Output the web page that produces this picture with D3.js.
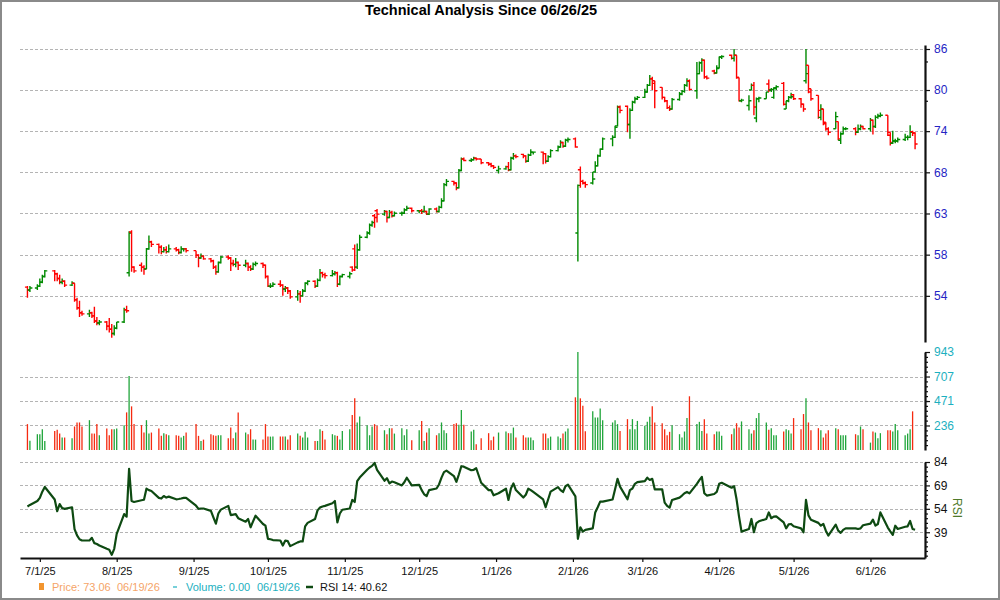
<!DOCTYPE html>
<html>
<head>
<meta charset="utf-8">
<script src="https://cdn.jsdelivr.net/npm/d3@7"></script>
<style>
  html, body { margin: 0; padding: 0; background: #fff; }
  svg { display: block; font-family: "Liberation Sans", Arial, sans-serif; }
</style>
</head>
<body>
<svg id="chart" width="1000" height="600"></svg>
<script>
/* ---------------------------------------------
   Data: one line per trading week (6/26/25 .. 6/19/26)
---------------------------------------------- */
const holidays = ["2025-07-04", "2025-09-01", "2025-11-27", "2025-12-25", "2026-01-01",
                  "2026-01-19", "2026-02-16", "2026-04-03", "2026-05-25"];

const opens = [
  54.9, 54.6,
  54.8, 55.0, 55.4, 56.0,
  56.6, 56.3, 55.8, 55.4, 55.5,
  55.1, 55.3, 53.6, 52.8, 52.3,
  52.2, 52.3, 52.0, 51.5, 51.3,
  51.4, 51.0, 50.7, 50.3, 50.8,
  51.4, 52.6, 56.4, 60.9, 57.0,
  57.2, 57.0, 56.8, 59.0, 59.8,
  59.5, 59.2, 58.7, 58.9, 58.7,
  59.0, 58.9, 58.6, 59.0, 59.0,
  58.8, 58.3, 58.0, 58.2,
  57.9, 57.7, 57.0, 56.5, 57.5,
  58.1, 58.0, 57.4, 57.3, 57.5,
  57.2, 57.4, 57.0, 56.8, 57.3,
  57.4, 57.2, 56.0, 55.0, 55.0,
  55.2, 55.1, 54.7, 54.8, 54.5,
  53.9, 54.2, 54.0, 54.5, 55.3,
  55.5, 55.0, 55.6, 56.4, 56.2,
  56.1, 56.3, 56.4, 55.2, 56.0,
  56.0, 57.0, 59.0, 57.0, 58.9,
  60.3, 60.8, 61.7, 62.8, 63.4,
  63.0, 63.3, 62.6, 63.2, 62.8,
  63.1, 63.1, 63.5, 63.7,
  63.4, 63.4, 63.3, 63.3, 63.0,
  63.6, 63.3, 63.8, 64.6, 66.6,
  67.0, 66.8, 66.2, 68.4, 69.9,
  69.7, 69.8, 70.0, 69.9,
  69.4, 69.2, 69.0, 68.4,
  68.6, 68.9, 68.5, 70.0, 70.3,
  70.5, 70.3, 69.6, 70.4, 70.8,
  70.8, 70.6, 69.6, 70.2,
  71.0, 71.5, 72.1, 71.6, 72.4,
  72.6, 60.8, 68.5, 67.0, 66.8,
  66.8, 68.2, 69.0, 70.3, 71.2,
  72.6, 72.8, 74.4, 77.1,
  77.2, 74.6, 76.6, 77.8, 78.3,
  78.5, 79.3, 80.3, 81.3, 81.0,
  80.0, 78.5, 78.0, 77.0, 76.8,
  78.2, 79.0, 79.4, 80.3, 81.0,
  79.5, 82.1, 83.8, 84.2, 81.6,
  82.5, 82.2, 83.0, 84.7,
  85.0, 84.5, 85.0, 81.5, 78.0,
  77.3, 79.6, 80.3, 75.5, 78.3,
  78.3, 80.5, 79.6, 78.5, 79.9,
  80.6, 76.8, 78.0, 78.5, 78.9,
  78.3, 77.5, 81.0, 83.4, 79.8,
  78.8, 75.6, 76.8, 74.9, 74.0,
  74.0, 75.0, 72.4, 73.3, 74.0,
  74.0, 73.5, 74.0, 74.3,
  74.0, 75.2, 74.3, 75.6, 75.8,
  75.9, 73.5, 72.0, 72.3, 72.3,
  72.5, 72.8, 72.8, 73.6, 73.4
];

const highs = [
  55.0, 55.0,
  55.2, 55.8, 56.2, 56.7,
  56.7, 56.4, 56.2, 55.8, 55.6,
  55.5, 55.3, 53.8, 53.5, 52.5,
  52.6, 52.4, 52.9, 51.9, 51.6,
  51.5, 51.8, 51.2, 51.1, 51.4,
  52.8, 53.0, 61.0, 61.1, 57.1,
  57.5, 57.2, 59.1, 60.5, 59.9,
  59.6, 59.4, 59.2, 59.3, 59.5,
  59.2, 59.0, 59.3, 59.1, 59.1,
  58.8, 58.4, 58.5, 58.3,
  58.0, 57.8, 57.2, 57.6, 58.2,
  58.3, 58.1, 57.8, 58.0, 57.6,
  57.8, 57.5, 57.2, 57.5, 57.6,
  57.5, 57.3, 56.1, 55.3, 55.4,
  55.6, 55.2, 55.0, 54.9, 54.6,
  54.6, 54.5, 54.7, 55.4, 55.6,
  55.6, 55.8, 56.8, 56.5, 56.4,
  56.7, 56.6, 56.5, 56.1, 56.3,
  56.5, 57.1, 59.5, 59.6, 60.6,
  61.0, 61.9, 62.2, 63.0, 63.6,
  63.5, 63.4, 63.5, 63.4, 63.3,
  63.3, 63.7, 64.0, 63.8,
  63.5, 63.6, 64.0, 63.4, 63.7,
  63.8, 64.0, 64.9, 66.8, 67.3,
  67.1, 66.9, 68.6, 70.1, 70.1,
  70.0, 70.2, 70.1, 69.9,
  69.5, 69.4, 69.1, 69.0,
  69.0, 69.5, 70.2, 70.7, 70.5,
  70.6, 70.4, 70.6, 71.2, 70.9,
  70.9, 70.7, 70.4, 71.2,
  71.7, 72.4, 72.2, 72.6, 72.8,
  72.8, 66.6, 68.9, 67.2, 67.0,
  68.2, 69.6, 70.5, 71.3, 72.8,
  73.1, 74.4, 77.3, 77.3,
  77.3, 76.9, 78.0, 78.6, 78.7,
  79.8, 80.5, 81.9, 81.6, 81.0,
  80.0, 78.6, 78.1, 77.3, 78.4,
  79.3, 79.6, 80.5, 81.4, 81.2,
  83.9, 84.0, 84.5, 84.3, 81.8,
  82.7, 83.4, 84.8, 85.0,
  85.1, 86.0, 85.0, 81.5, 78.3,
  78.8, 80.6, 80.8, 78.5, 78.6,
  79.3, 81.2, 79.9, 80.0, 80.3,
  80.8, 78.0, 78.7, 79.2, 79.0,
  78.4, 77.6, 86.0, 83.4, 79.8,
  78.8, 77.5, 76.8, 74.9, 74.2,
  76.4, 75.0, 73.5, 74.3, 74.2,
  74.2, 74.6, 74.6, 74.4,
  75.5, 75.3, 75.9, 76.1, 76.3,
  75.9, 73.5, 73.7, 72.6, 72.8,
  73.3, 73.1, 74.5, 73.7, 73.5
];

const lows = [
  53.8, 54.4,
  54.6, 54.9, 55.3, 55.9,
  55.5, 55.5, 55.2, 55.2, 54.9,
  55.0, 53.4, 52.6, 51.9, 52.0,
  51.9, 51.8, 51.3, 51.1, 51.1,
  50.6, 50.4, 49.9, 50.1, 50.7,
  51.3, 52.3, 56.0, 56.5, 56.4,
  56.5, 56.2, 56.8, 58.9, 59.2,
  58.5, 58.4, 58.6, 58.5, 58.6,
  58.7, 58.4, 58.5, 58.7, 58.6,
  58.0, 57.0, 57.9, 57.8,
  57.5, 56.8, 56.2, 56.4, 57.4,
  57.8, 56.6, 57.1, 57.0, 56.7,
  57.0, 56.6, 56.6, 56.7, 57.1,
  56.9, 55.8, 54.9, 54.8, 54.9,
  54.9, 54.0, 54.4, 54.2, 53.7,
  53.5, 53.3, 53.9, 54.4, 55.1,
  54.8, 54.9, 55.5, 55.9, 55.8,
  56.0, 56.1, 54.9, 55.1, 55.9,
  55.8, 56.5, 56.6, 56.8, 58.8,
  60.2, 60.6, 61.5, 61.4, 62.0,
  62.8, 62.0, 62.5, 62.6, 62.7,
  62.8, 63.0, 63.4, 63.2,
  63.1, 63.0, 63.2, 62.9, 62.9,
  63.2, 63.2, 63.7, 64.5, 66.4,
  66.5, 65.9, 66.1, 68.3, 69.6,
  69.5, 69.7, 69.7, 69.2,
  69.0, 68.8, 68.6, 68.0,
  68.5, 68.3, 68.4, 69.8, 70.0,
  70.0, 69.4, 69.5, 70.3, 70.5,
  69.2, 69.3, 69.5, 70.1,
  70.9, 71.4, 71.4, 71.5, 72.1,
  71.4, 57.6, 66.2, 66.6, 66.2,
  66.6, 68.1, 68.9, 70.2, 71.1,
  71.6, 72.7, 74.3, 76.2,
  73.5, 72.6, 76.5, 77.6, 78.1,
  78.4, 79.2, 80.2, 79.6, 76.9,
  78.2, 77.8, 76.8, 76.5, 76.7,
  78.0, 78.8, 79.2, 80.1, 79.5,
  78.3, 82.0, 82.4, 81.3, 81.2,
  82.0, 82.1, 82.9, 84.4,
  84.3, 84.0, 81.3, 77.9, 77.8,
  76.6, 79.6, 75.9, 74.9, 77.8,
  78.3, 79.3, 79.3, 78.3, 79.6,
  77.3, 76.8, 77.8, 78.3, 78.1,
  77.0, 76.4, 80.6, 79.1, 78.0,
  75.4, 75.2, 74.5, 73.7, 73.1,
  74.0, 72.4, 71.9, 73.2, 73.8,
  73.1, 73.4, 73.8, 73.9,
  73.6, 73.2, 74.1, 75.4, 75.6,
  73.0, 71.7, 71.9, 72.0, 72.1,
  72.3, 72.4, 72.7, 73.0, 71.2
];

const closes = [
  54.6, 54.8,
  55.0, 55.4, 56.0, 56.6,
  56.3, 55.8, 55.4, 55.5, 55.1,
  55.3, 53.6, 52.8, 52.3, 52.2,
  52.3, 52.0, 51.5, 51.3, 51.4,
  51.0, 50.7, 50.3, 50.8, 51.4,
  52.6, 52.5, 60.8, 57.0, 56.6,
  57.0, 56.8, 59.0, 59.8, 59.5,
  59.2, 58.7, 58.9, 58.7, 59.0,
  58.9, 58.6, 59.0, 59.0, 58.8,
  58.3, 58.0, 58.2, 57.9,
  57.7, 57.0, 56.5, 57.5, 58.1,
  58.0, 57.4, 57.3, 57.5, 57.2,
  57.4, 57.0, 56.8, 57.3, 57.4,
  57.2, 56.0, 55.0, 55.0, 55.2,
  55.1, 54.7, 54.8, 54.5, 53.9,
  54.2, 54.0, 54.5, 55.3, 55.5,
  55.0, 55.6, 56.4, 56.2, 56.1,
  56.3, 56.4, 55.2, 56.0, 56.2,
  56.3, 56.7, 57.0, 58.9, 60.3,
  60.8, 61.7, 62.0, 62.6, 63.0,
  63.3, 62.6, 63.2, 62.8, 63.1,
  63.1, 63.5, 63.7, 63.4,
  63.4, 63.3, 63.3, 63.0, 63.6,
  63.3, 63.8, 64.6, 66.6, 67.0,
  66.8, 66.2, 68.4, 69.9, 69.7,
  69.8, 70.0, 69.9, 69.4,
  69.2, 69.0, 68.8, 68.6,
  68.9, 68.5, 70.0, 70.3, 70.2,
  70.3, 69.6, 70.4, 70.8, 70.8,
  70.6, 69.6, 70.2, 71.0,
  71.5, 72.1, 71.6, 72.4, 72.5,
  71.5, 66.5, 67.0, 66.8, 66.6,
  67.3, 69.0, 70.3, 71.2, 72.6,
  72.8, 74.2, 77.1, 76.6,
  74.6, 76.6, 77.8, 78.3, 78.5,
  79.3, 80.3, 81.3, 80.6, 79.5,
  78.5, 78.0, 77.0, 76.8, 78.2,
  79.0, 79.4, 80.3, 80.9, 79.7,
  82.1, 83.8, 84.2, 81.6, 81.4,
  82.2, 82.9, 84.7, 84.8,
  84.5, 85.0, 81.5, 78.0, 78.1,
  78.0, 80.3, 77.1, 78.3, 78.4,
  79.3, 79.6, 79.7, 79.9, 80.1,
  77.5, 78.0, 78.5, 78.6, 78.3,
  77.5, 76.8, 82.1, 79.3, 78.3,
  76.6, 76.8, 74.7, 74.0, 73.5,
  75.7, 72.6, 73.3, 74.0, 74.0,
  73.6, 74.0, 74.3, 74.0,
  75.2, 74.3, 75.6, 75.8, 75.9,
  73.1, 72.1, 72.3, 72.3, 72.5,
  72.8, 72.8, 73.5, 73.4, 71.9
];

// volume, thousands
const volumes = [
  249, 90,
  152, 152, 200, 87,
  184, 194, 158, 120, 120,
  113, 226, 265, 265, 226,
  287, 158, 158, 249, 142,
  207, 142, 200, 200, 207,
  239, 362, 711, 420, 249,
  239, 168, 287, 158, 168,
  207, 136, 162, 152, 142,
  142, 136, 120, 136, 168,
  249, 136, 87, 100,
  152, 142, 136, 142, 142,
  113, 216, 113, 168, 362,
  168, 152, 200, 100, 100,
  100, 249, 129, 129, 129,
  129, 129, 129, 100, 142,
  158, 136, 120, 175, 120,
  87, 87, 200, 184, 100,
  152, 142, 136, 100, 184,
  200, 336, 497, 265, 323,
  239, 142, 226, 249, 233,
  190, 152, 210, 210, 158,
  210, 142, 200, 94,
  190, 278, 87, 168, 210,
  142, 162, 265, 190, 162,
  249, 258, 242, 384, 242,
  178, 194, 55, 113,
  162, 94, 129, 168,
  178, 162, 162, 216, 120,
  142, 120, 120, 120, 94,
  158, 158, 113, 129,
  129, 113, 158, 178, 207,
  507, 943, 497, 426, 180,
  372, 313, 313, 400, 287,
  265, 287, 249, 184,
  297, 200, 297, 200, 280,
  233, 271, 320, 420, 265,
  258, 200, 142, 175, 239,
  152, 120, 178, 307, 517,
  249, 271, 184, 297, 158,
  152, 178, 178, 136,
  152, 207, 258, 216, 275,
  200, 158, 190, 307, 355,
  265, 194, 210, 142, 142,
  178, 200, 190, 158, 307,
  200, 346, 497, 265, 190,
  210, 190, 120, 158, 190,
  210, 200, 142, 142, 142,
  152, 142, 226, 200,
  71, 178, 168, 113, 162,
  190, 190, 178, 249, 190,
  142, 158, 200, 372, 0
];

const rsi14 = [
  55.5, 56.5,
  59, 61, 65, 68,
  60, 52.5, 57, 54.5, 54,
  55, 41, 37, 34.5, 33.7,
  33.7, 35.4, 32, 31.5, 30.5,
  28.4, 27.8, 24.5, 28.4, 38,
  50.6, 49, 79.6, 59, 58.4,
  59.5, 59.8, 66.9, 66, 65.4,
  61, 60.6, 62.2, 61.2, 61.8,
  60.1, 60.3, 60.6, 61, 61,
  56, 54, 54.2, 54.2,
  52.7, 48.5, 44.5, 51, 53.5,
  55.9, 50, 50.3, 50.6, 48,
  45.8, 47.5, 42.2, 46, 49.6,
  44.3, 43.2, 34.8, 34.5, 34,
  33.7, 30.5, 33.7, 33.3, 30.1,
  32.5, 33.1, 33.1, 42.8, 45,
  47.5, 53, 54.8, 55.5, 55.9,
  57.6, 59, 45.3, 51, 53.4,
  54.2, 59.7, 58.4, 71.7, 74,
  79, 80.5, 81.5, 83.4, 79,
  72, 73.6, 70.3, 71.5, 71,
  69, 71, 73.9, 69,
  69.4, 66, 63.3, 62.2, 66,
  67, 69.6, 74, 77.5, 78.5,
  75, 71.3, 76, 81.3, 81,
  78.7, 79, 80, 70.7,
  66, 66, 62.7, 64,
  66.9, 59.7, 67, 70.3, 66,
  61.2, 63, 66.9, 66, 64.8,
  60, 55, 60, 65,
  67.9, 66, 64.8, 68.5, 69.5,
  62, 34.8, 42.2, 39.4, 40.5,
  41.5, 51.7, 55, 58.6, 58.6,
  60, 66.5, 73.2, 68.2,
  60.1, 66, 67, 70, 71.1,
  71.7, 73.9, 72.5, 73.2, 66.5,
  66.5, 58, 55.9, 54.8, 59.7,
  61.2, 62.5, 64, 64.8, 63.9,
  70, 72.4, 74.5, 64, 62.5,
  63.5, 64.8, 70, 70.7,
  67.5, 68.6, 60.1, 49, 39.4,
  41.1, 47.5, 39, 44.9, 46,
  47.5, 51.7, 48, 49, 49.2,
  45.3, 41.5, 44, 44.3, 42.8,
  41.5, 39, 59.7, 49.8, 47,
  45, 43.2, 44.3, 40, 36.9,
  43.9, 40, 38.6, 40.5, 41.5,
  41.5, 41.1, 41.5, 43.5,
  44.5, 47.1, 43.2, 44.3, 51.7,
  42, 39.5, 37.3, 43.2, 41.1,
  42.5, 42.8, 46.2, 41.1, 40.6
];

// axis ticks
const priceTicks = [54, 58.36, 63.07, 68.16, 73.66, 79.6, 86];
const priceMinor = [84, 78];
const volTicks = [236, 471, 707, 943];
const rsiTicks = [39, 54, 69, 84];
const monthTicks = ["2025-07-01", "2025-08-01", "2025-09-01", "2025-10-01", "2025-11-01", "2025-12-01",
                    "2026-01-01", "2026-02-01", "2026-03-01", "2026-04-01", "2026-05-01", "2026-06-01"];

/* ---------------------------------------------
   Setup
---------------------------------------------- */
const FONT = '"Liberation Sans", Arial, sans-serif';
const UP = "#008a00", DOWN = "#ff0000";
const VOL_UP = "#1fa53a", VOL_DOWN = "#f52a10";
const LEFT = 20, RIGHT = 925;

const svg = d3.select("#chart");

const fmtDay = d3.timeFormat("%Y-%m-%d");
const parseDay = d3.timeParse("%Y-%m-%d");
const dates = d3.timeDay.range(new Date(2025, 5, 26), new Date(2026, 5, 20))
  .filter(d => d.getDay() !== 0 && d.getDay() !== 6 && !holidays.includes(fmtDay(d)));

const n = Math.min(dates.length, opens.length, highs.length, lows.length, closes.length, volumes.length, rsi14.length);
if (n !== dates.length || n !== closes.length) console.log("length mismatch", dates.length, closes.length, volumes.length, rsi14.length);

const bars = d3.range(n).map(i => ({
  date: dates[i], o: opens[i], h: highs[i], l: lows[i], c: closes[i], v: volumes[i], r: rsi14[i]
}));

const x = d3.scaleTime()
  .domain([new Date(2025, 5, 23), new Date(2026, 5, 23)])
  .range([LEFT, RIGHT]);

const yP = d3.scaleLog().domain([49.5, 86.65]).range([342, 45]);
const yV = d3.scaleLinear().domain([0, 943]).range([450, 352]);
const yR = d3.scaleLinear().domain([22.5, 84]).range([558, 462]);

// outer frame
svg.append("rect")
  .attr("x", 1).attr("y", 1).attr("width", 998).attr("height", 598)
  .attr("fill", "#fff").attr("stroke", "#8a8a8a").attr("stroke-width", 2);

// title
svg.append("text")
  .attr("x", 481).attr("y", 15)
  .attr("text-anchor", "middle")
  .attr("font-family", FONT).attr("font-weight", "bold").attr("font-size", 14.5)
  .attr("fill", "#000")
  .text("Technical Analysis Since 06/26/25");

/* ---------------------------------------------
   Grid lines
---------------------------------------------- */
function grid(values, scale) {
  svg.append("g").selectAll("line")
    .data(values).enter().append("line")
    .attr("x1", LEFT).attr("x2", RIGHT)
    .attr("y1", d => Math.round(scale(d)) + 0.5)
    .attr("y2", d => Math.round(scale(d)) + 0.5)
    .attr("stroke", "#b4b4b4").attr("stroke-width", 1)
    .attr("stroke-dasharray", "3,2");
}
grid(priceTicks, yP);
grid(volTicks.slice(0, 3), yV);
grid(rsiTicks, yR);

/* ---------------------------------------------
   Price OHLC bars
---------------------------------------------- */
svg.append("g").selectAll("path")
  .data(bars).enter().append("path")
  .attr("d", d => {
    const cx = x(d.date);
    return `M${cx},${yP(d.h)}V${yP(d.l)}M${cx - 2.5},${yP(d.o)}H${cx}M${cx},${yP(d.c)}H${cx + 2.5}`;
  })
  .attr("fill", "none")
  .attr("stroke", d => d.c >= d.o ? UP : DOWN)
  .attr("stroke-width", 1.4);

/* ---------------------------------------------
   Volume bars
---------------------------------------------- */
svg.append("g").selectAll("line")
  .data(bars.filter(d => d.v > 0)).enter().append("line")
  .attr("x1", d => x(d.date)).attr("x2", d => x(d.date))
  .attr("y1", yV(0)).attr("y2", d => yV(d.v))
  .attr("stroke", d => d.c >= d.o ? VOL_UP : VOL_DOWN)
  .attr("stroke-width", 1.3);

/* ---------------------------------------------
   RSI line
---------------------------------------------- */
svg.append("path")
  .datum(bars)
  .attr("fill", "none")
  .attr("stroke", "#0e4a12")
  .attr("stroke-width", 2.2)
  .attr("stroke-linejoin", "round")
  .attr("d", d3.line().x(d => x(d.date)).y(d => yR(d.r)));

/* ---------------------------------------------
   Axes
---------------------------------------------- */
function styleAxis(g, color) {
  g.attr("font-family", FONT).attr("font-size", 12);
  g.select(".domain").attr("stroke", "#111").attr("stroke-width", 2.2);
  g.selectAll(".tick line").attr("stroke", "#111").attr("stroke-width", 1.2);
  g.selectAll(".tick text").attr("fill", color);
}

function minorAxis(scale, values) {
  svg.append("g")
    .attr("transform", `translate(${RIGHT},0)`)
    .call(d3.axisRight(scale).tickValues(values).tickSize(3).tickFormat(""))
    .call(g => g.select(".domain").remove())
    .call(g => g.selectAll(".tick line").attr("stroke", "#111").attr("stroke-width", 1.2));
}

// price
svg.append("g")
  .attr("transform", `translate(${RIGHT},0)`)
  .call(d3.axisRight(yP).tickValues(priceTicks).tickFormat(d3.format(".0f")).tickSize(5).tickSizeOuter(0).tickPadding(4))
  .call(g => styleAxis(g, "#2424c4"));
minorAxis(yP, priceMinor);

// volume
svg.append("g")
  .attr("transform", `translate(${RIGHT},0)`)
  .call(d3.axisRight(yV).tickValues(volTicks).tickFormat(d3.format("d")).tickSize(5).tickSizeOuter(0).tickPadding(4))
  .call(g => styleAxis(g, "#1cb0c0"));
minorAxis(yV, d3.range(1, 20).map(k => k * 943 / 20).filter(v => !volTicks.includes(Math.round(v))));

// RSI
svg.append("g")
  .attr("transform", `translate(${RIGHT},0)`)
  .call(d3.axisRight(yR).tickValues(rsiTicks).tickSize(5).tickSizeOuter(0).tickPadding(4))
  .call(g => styleAxis(g, "#111"));
minorAxis(yR, d3.range(24, 84, 3).filter(v => !rsiTicks.includes(v)));

svg.append("text")
  .attr("transform", "translate(953,508) rotate(90)")
  .attr("text-anchor", "middle")
  .attr("font-family", FONT).attr("font-size", 12)
  .attr("fill", "#4f7a2a")
  .text("RSI");

// dates
svg.append("g")
  .attr("transform", "translate(0,558)")
  .call(d3.axisBottom(x)
    .tickValues(monthTicks.map(parseDay))
    .tickFormat(d3.timeFormat("%-m/%-d/%y"))
    .tickSize(4).tickSizeOuter(0).tickPadding(5))
  .call(g => styleAxis(g, "#111"))
  .call(g => g.attr("font-size", 11));

/* ---------------------------------------------
   Legend
---------------------------------------------- */
const legend = svg.append("g").attr("font-family", FONT).attr("font-size", 11);

legend.append("rect").attr("x", 39).attr("y", 583).attr("width", 5).attr("height", 7).attr("fill", "#f2952f");
legend.append("text").attr("x", 52).attr("y", 591).attr("fill", "#f5a468").text("Price: 73.06");
legend.append("text").attr("x", 117).attr("y", 591).attr("fill", "#f5a468").text("06/19/26");

legend.append("line").attr("x1", 173).attr("x2", 177).attr("y1", 587).attr("y2", 587)
  .attr("stroke", "#1cb0c0").attr("stroke-width", 1.2);
legend.append("text").attr("x", 186).attr("y", 591).attr("fill", "#1cb0c0").text("Volume: 0.00");
legend.append("text").attr("x", 257).attr("y", 591).attr("fill", "#1cb0c0").text("06/19/26");

legend.append("line").attr("x1", 306).attr("x2", 313).attr("y1", 587).attr("y2", 587)
  .attr("stroke", "#0e4a12").attr("stroke-width", 2.5);
legend.append("text").attr("x", 320).attr("y", 591).attr("fill", "#111").text("RSI 14: 40.62");
</script>
</body>
</html>
